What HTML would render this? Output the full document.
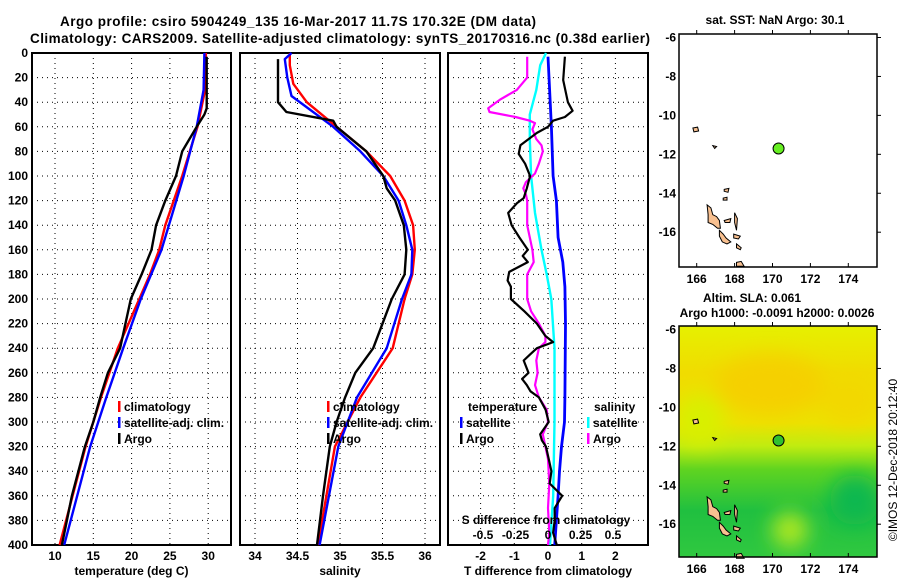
<!DOCTYPE html>
<html><head><meta charset="utf-8">
<style>
html,body{margin:0;padding:0;background:#fff;}
svg{display:block;font-family:"Liberation Sans",sans-serif;font-weight:bold;}
</style></head>
<body>
<svg id="fig" width="900" height="580" viewBox="0 0 900 580" xmlns="http://www.w3.org/2000/svg">
<text x="298" y="26" text-anchor="middle" font-size="13.5" textLength="476">Argo profile: csiro 5904249_135 16-Mar-2017 11.7S 170.32E (DM data)</text>
<text x="340" y="43" text-anchor="middle" font-size="13.5" textLength="620">Climatology: CARS2009. Satellite-adjusted climatology: synTS_20170316.nc (0.38d earlier)</text>
<g id="g1"></g>
<g id="g2"></g>
<g id="g3"></g>
<g id="m1"></g>
<g id="m2"></g>
<text transform="translate(897,460) rotate(-90)" text-anchor="middle" font-size="12" font-weight="normal">©IMOS 12-Dec-2018 20:12:40</text>
</svg>
<script>
// ---- data ----
const depthTicks = [0,20,40,60,80,100,120,140,160,180,200,220,240,260,280,300,320,340,360,380,400];
const tempTicks = [10,15,20,25,30];
const salTicks = [34,34.5,35,35.5,36];
const tdiffTicks = [-2,-1,0,1,2];
const sdiffTicks = [-0.5,-0.25,0,0.25,0.5];
const lonTicks = [166,168,170,172,174];
const latTicks = [-6,-8,-10,-12,-14,-16];

const argoTempDepth = [3,45,50,60,80,100,120,140,160,180,200,240,260,280,300,320,360,400];
const argoTemp = [29.8,29.8,29.5,28.5,26.6,25.8,24.4,23.2,22.6,21.3,19.9,18.5,16.9,15.9,15.0,13.9,12.2,10.9];
const climTempDepth = [0,30,60,80,100,140,160,180,200,240,280,320,400];
const climTemp = [29.7,29.6,28.6,27.6,26.6,24.4,23.6,22.4,21.0,18.2,16.0,14.0,10.6];
const satTempDepth = [0,30,60,100,160,200,240,280,320,400];
const satTemp = [29.5,29.4,28.5,26.8,23.9,21.2,18.9,16.7,14.6,11.2];

const argoSalDepth = [5,40,48,55,60,80,100,110,120,140,160,180,200,240,260,280,300,320,360,400];
const argoSal = [34.27,34.27,34.37,34.92,34.96,35.31,35.51,35.55,35.65,35.75,35.78,35.76,35.61,35.39,35.18,35.06,34.96,34.88,34.80,34.73];
const climSalDepth = [0,10,25,40,60,80,100,120,140,160,180,200,240,280,320,400];
const climSal = [34.41,34.41,34.45,34.61,34.96,35.31,35.59,35.76,35.86,35.88,35.85,35.76,35.62,35.24,34.94,34.74];
const satSalDepth = [0,5,20,35,60,80,100,120,140,160,180,200,240,280,320,400];
const satSal = [34.43,34.35,34.38,34.43,34.92,35.24,35.51,35.69,35.78,35.85,35.84,35.73,35.55,35.20,34.98,34.76];

const argoTdDepth = [3,22,40,47,52,55,60,65,75,82,90,100,110,118,122,130,140,150,160,165,170,178,185,190,200,210,220,230,235,240,245,250,260,265,270,275,280,290,300,310,315,320,330,340,350,360,370,380,390,400];
const argoTd = [0.5,0.45,0.59,0.73,0.5,0.15,0,-0.33,-0.82,-0.87,-0.68,-0.53,-0.63,-0.72,-0.92,-1.18,-1.08,-0.85,-0.6,-0.75,-0.6,-1.15,-1.2,-1.1,-1.1,-0.7,-0.33,-0.08,0.15,-0.33,-0.53,-0.72,-0.58,-0.77,-0.63,-0.52,-0.27,-0.07,0.02,-0.23,-0.18,-0.06,0.02,0.1,0.05,0.42,0.2,0.2,0.15,0.26];
const satTdDepth = [3,60,100,120,150,170,190,220,280,300,320,340,360,380,400];
const satTd = [0,0.1,0.15,0.25,0.3,0.44,0.5,0.52,0.5,0.49,0.4,0.34,0.3,0.25,0.2];
const satSdDepth = [0,10,30,50,70,100,130,160,180,200,240,300,360,400];
const satSd = [-0.015,-0.06,-0.09,-0.14,-0.14,-0.13,-0.1,-0.05,-0.01,0.025,0.05,0.05,0.04,0.015];
const argoSdDepth = [3,20,30,38,45,48,52,55,57,62,70,75,80,90,98,105,110,115,120,140,160,170,180,200,210,220,230,235,240,250,260,270,280,290,300,310,320,330,350,370,390,400];
const argoSd = [-0.16,-0.16,-0.24,-0.37,-0.46,-0.45,-0.25,-0.14,-0.1,-0.12,-0.09,-0.05,-0.04,-0.07,-0.1,-0.17,-0.19,-0.17,-0.16,-0.16,-0.12,-0.11,-0.16,-0.16,-0.13,-0.07,-0.02,-0.02,-0.07,-0.09,-0.08,-0.1,-0.07,-0.01,0.0,-0.04,-0.02,0.0,0.01,0.0,0.01,0.0];

const floatLon = 170.32, floatLat = -11.7;
</script>
<script>
const NS="http://www.w3.org/2000/svg";
function mk(parent,tag,attrs,txt){const e=document.createElementNS(NS,tag);for(const k in attrs)e.setAttribute(k,attrs[k]);if(txt!==undefined)e.textContent=txt;parent.appendChild(e);return e;}
const yD = d => 53 + d*1.23;
function panel(g,x0,x1,xs,ticks,fmt,title){
  for(const d of depthTicks){
    const l=mk(g,'line',{x1:x0,x2:x1,y1:yD(d),y2:yD(d),stroke:'#000','stroke-width':1,'stroke-dasharray':'1,4'});
    
    
  }
  for(const t of ticks){
    const l=mk(g,'line',{x1:xs(t),x2:xs(t),y1:53,y2:545,stroke:'#000','stroke-width':1,'stroke-dasharray':'1,4'});
    
    
    const tx=mk(g,'text',{x:xs(t),y:560,'text-anchor':'middle','font-size':12},fmt(t));
    
    
  }
  const fr=mk(g,'rect',{x:x0,y:53,width:x1-x0,height:492,fill:'none',stroke:'#000','stroke-width':2});
  
  
  const tt=mk(g,'text',{x:(x0+x1)/2,y:575,'text-anchor':'middle','font-size':12},title);
  
  
}
function line(g,xs,ds,vs,color,name,w){
  const p=ds.map((d,i)=>(i?'L':'M')+xs(vs[i]).toFixed(1)+','+yD(d).toFixed(1)).join('');
  const e=mk(g,'path',{d:p,fill:'none',stroke:color,'stroke-width':w||2.4,'stroke-linejoin':'round'});
  
  
}
function legend(g,x,y,color,label){
  const r=mk(g,'rect',{x:x,y:y-10,width:2.5,height:11,fill:color});
  
  
  const t=mk(g,'text',{x:x+6,y:y,'font-size':12},label);
  
  
}
const fig=document.getElementById('fig');
for(const d of depthTicks){
  const t=mk(fig,'text',{x:28,y:yD(d)+4,'text-anchor':'end','font-size':12},String(d));
  
  
}
const g1=document.getElementById('g1');
const xT=t=>55+(t-10)*7.66;
panel(g1,32,231,xT,tempTicks,String,'temperature (deg C)');
line(g1,xT,climTempDepth,climTemp,'#f00','climatology-temp-line');
line(g1,xT,satTempDepth,satTemp,'#00f','satellite-temp-line');
line(g1,xT,argoTempDepth,argoTemp,'#000','argo-temp-line');
legend(g1,118,411,'#f00','climatology');
legend(g1,118,427,'#00f','satellite-adj. clim.');
legend(g1,118,443,'#000','Argo');
const g2=document.getElementById('g2');
const xS=s=>255+(s-34)*85;
panel(g2,240,440,xS,salTicks,String,'salinity');
line(g2,xS,climSalDepth,climSal,'#f00','climatology-sal-line');
line(g2,xS,satSalDepth,satSal,'#00f','satellite-sal-line');
line(g2,xS,argoSalDepth,argoSal,'#000','argo-sal-line');
legend(g2,327,411,'#f00','climatology');
legend(g2,327,427,'#00f','satellite-adj. clim.');
legend(g2,327,443,'#000','Argo');
const g3=document.getElementById('g3');
const xTd=t=>548+t*33.7;
const xSd=s=>548+s*130;
panel(g3,448,648,xTd,tdiffTicks,String,'T difference from climatology');
line(g3,xTd,satTdDepth,satTd,'#00f','satellite-tdiff-line',2.8);
line(g3,xSd,satSdDepth,satSd,'#0ff','satellite-sdiff-line',2.4);
line(g3,xSd,argoSdDepth,argoSd,'#f0f','argo-sdiff-line',2.2);
line(g3,xTd,argoTdDepth,argoTd,'#000','argo-tdiff-line',2.2);
const st=mk(g3,'text',{x:546,y:524,'text-anchor':'middle','font-size':12},'S difference from climatology');


for(const s of sdiffTicks){
  const t=mk(g3,'text',{x:xSd(s),y:539,'text-anchor':'middle','font-size':12},String(s));
  
  
}
const t1=mk(g3,'text',{x:468,y:411,'font-size':12},'temperature');


legend(g3,460,427,'#00f','satellite');
legend(g3,460,443,'#000','Argo');
const t2=mk(g3,'text',{x:594,y:411,'font-size':12},'salinity');


legend(g3,587,427,'#0ff','satellite');
legend(g3,587,443,'#f0f','Argo');

const islands=[
 [[166.55,-14.6],[166.75,-14.75],[166.85,-15.1],[167.05,-15.2],[167.2,-15.4],[167.25,-15.8],[167.1,-15.8],[166.85,-15.6],[166.6,-15.5],[166.6,-15.1]],
 [[167.2,-15.9],[167.4,-16.1],[167.55,-16.3],[167.8,-16.5],[167.6,-16.6],[167.35,-16.5],[167.2,-16.2]],
 [[168.1,-17.55],[168.35,-17.5],[168.5,-17.75],[168.1,-17.75]],
 [[167.45,-15.4],[167.8,-15.3],[167.75,-15.5],[167.5,-15.5]],
 [[167.4,-14.25],[167.6,-14.2],[167.6,-14.35],[167.4,-14.35]],
 [[167.95,-16.1],[168.3,-16.2],[168.2,-16.35],[167.95,-16.3]],
 [[168.1,-16.6],[168.35,-16.8],[168.3,-16.9],[168.1,-16.8]],
 [[165.8,-10.65],[166.05,-10.6],[166.1,-10.8],[165.85,-10.85]],
 [[166.85,-11.55],[167.05,-11.6],[166.95,-11.7]],
 [[167.45,-13.8],[167.7,-13.75],[167.65,-13.95],[167.45,-13.9]],
 [[168.0,-15.0],[168.15,-15.3],[168.1,-15.9],[168.0,-15.5]]
];
function drawMap(g,top,bottom,title,sla){
  const X=l=>696.7+(l-166)*18.95;
  const Y=l=>top+3.5+(-6-l)*19.47;
  if(sla){
    const defs=mk(g,'defs',{});
    const lg=mk(defs,'linearGradient',{id:'slaG',x1:0,y1:0,x2:0,y2:1});
    [['0','#e6f000'],['0.2','#f0dc00'],['0.42','#ece200'],['0.52','#c0ec10'],['0.62','#60d420'],['0.8','#20c040'],['1','#30c840']].forEach(s=>mk(lg,'stop',{offset:s[0],'stop-color':s[1]}));
    const fl=mk(defs,'filter',{id:'bl',x:'-50%',y:'-50%',width:'200%',height:'200%'});mk(fl,'feGaussianBlur',{stdDeviation:10});
    const cp=mk(defs,'clipPath',{id:'mapclip'});mk(cp,'rect',{x:679,y:top,width:198,height:bottom-top});
    const r=mk(g,'rect',{x:679,y:top,width:198,height:bottom-top,fill:'url(#slaG)'});
    
    
    const cw=mk(g,'g',{'clip-path':'url(#mapclip)'});
    const cg=mk(cw,'g',{filter:'url(#bl)'});
    mk(cg,'ellipse',{cx:770,cy:385,rx:55,ry:30,fill:'#f5d000'});
    mk(cg,'ellipse',{cx:850,cy:400,rx:30,ry:25,fill:'#f2d800'});
    mk(cg,'ellipse',{cx:700,cy:420,rx:25,ry:25,fill:'#d8f000'});
    mk(cg,'ellipse',{cx:790,cy:530,rx:18,ry:18,fill:'#b0e820'});
    mk(cg,'ellipse',{cx:855,cy:500,rx:25,ry:25,fill:'#10b850'});
  }
  for(const isl of islands){
    const p=isl.map((q,i)=>(i?'L':'M')+X(q[0]).toFixed(1)+','+Y(q[1]).toFixed(1)).join('')+'Z';
    const e=mk(g,'path',{d:p,fill:'#f8c090',stroke:'#000','stroke-width':1});
    
    
  }
  const c=mk(g,'circle',{cx:X(floatLon),cy:Y(floatLat),r:5.5,fill:sla?'#30c030':'#66ee22',stroke:'#000','stroke-width':1});
  
  
  const fr=mk(g,'rect',{x:679,y:top,width:198,height:bottom-top,fill:'none',stroke:'#000','stroke-width':1.5});
  
  
  for(const l of lonTicks){
    mk(g,'line',{x1:X(l),x2:X(l),y1:top,y2:top-4,stroke:'#000'});
    mk(g,'line',{x1:X(l),x2:X(l),y1:bottom,y2:bottom-4,stroke:'#000'});
    const t=mk(g,'text',{x:X(l),y:bottom+16,'text-anchor':'middle','font-size':12},String(l));
    
    
  }
  for(const l of latTicks){
    mk(g,'line',{x1:877,x2:881,y1:Y(l),y2:Y(l),stroke:'#000'});
    const t=mk(g,'text',{x:676,y:Y(l)+4,'text-anchor':'end','font-size':12},String(l));
    
    
  }
  title.forEach((s,i)=>{
    const t=mk(g,'text',{x:s[1],y:s[2],'text-anchor':'middle','font-size':12},s[0]);
    
    
  });
}
drawMap(document.getElementById('m1'),34,267,[['sat. SST: NaN Argo: 30.1',775,24]],false);
drawMap(document.getElementById('m2'),326,557,[['Altim. SLA: 0.061',752,302],['Argo h1000: -0.0091 h2000: 0.0026',777,317]],true);
</script>
</body></html>
